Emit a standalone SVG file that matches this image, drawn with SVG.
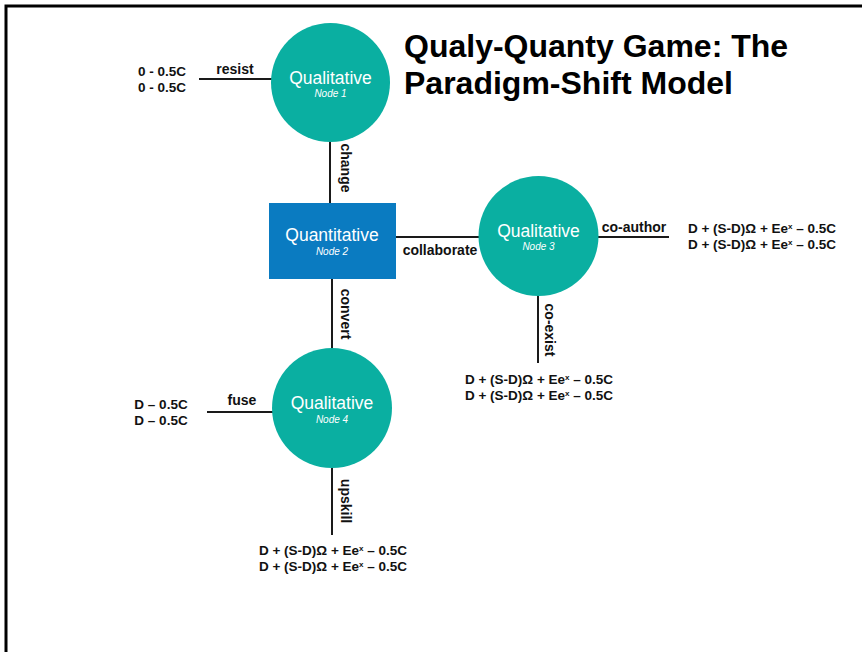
<svg xmlns="http://www.w3.org/2000/svg" width="862" height="652" viewBox="0 0 862 652">
<style>
.bg{fill:#fff}
.frame{fill:none;stroke:#000;stroke-width:3}
.circ{fill:#0aafa1}
.rect{fill:#0a7bc1}
.ln{stroke:#1a1a1a;stroke-width:2;fill:none}
.nt{font-family:"Liberation Sans",Arial,sans-serif;font-size:17.5px;fill:#fff;text-anchor:middle}
.ns{font-family:"Liberation Sans",Arial,sans-serif;font-size:10px;font-style:italic;fill:#fff;text-anchor:middle}
.lb{font-family:"Liberation Sans",Arial,sans-serif;font-size:14px;font-weight:bold;fill:#111;text-anchor:middle}
.eq{font-family:"Liberation Sans",Arial,sans-serif;font-size:13.5px;font-weight:bold;fill:#111;text-anchor:middle}
.sup{font-size:8px}
.title{font-family:"Liberation Sans",Arial,sans-serif;font-size:32px;font-weight:bold;fill:#000}
</style>
<rect class="bg" x="0" y="0" width="862" height="652"/>
<rect class="frame" x="6" y="6" width="870" height="660"/>
<g id="title">
<text class="title" x="404" y="57">Qualy-Quanty Game: The</text>
<text class="title" x="404" y="94">Paradigm-Shift Model</text>
</g>
<g id="connectors">
<line class="ln" x1="199" y1="79" x2="272" y2="79"/>
<line class="ln" x1="330" y1="141" x2="330" y2="203"/>
<line class="ln" x1="332" y1="279" x2="332" y2="349"/>
<line class="ln" x1="396" y1="237" x2="479" y2="237"/>
<line class="ln" x1="598" y1="237" x2="669" y2="237"/>
<line class="ln" x1="538" y1="295" x2="538" y2="363"/>
<line class="ln" x1="207" y1="412" x2="273" y2="412"/>
<line class="ln" x1="332" y1="467" x2="332" y2="535"/>
<text class="lb" x="235" y="74">resist</text>
<text class="lb" transform="translate(346,168) rotate(90)" dominant-baseline="central">change</text>
<text class="lb" transform="translate(346,314) rotate(90)" dominant-baseline="central">convert</text>
<text class="lb" x="440" y="255">collaborate</text>
<text class="lb" x="634" y="232">co-author</text>
<text class="lb" transform="translate(550,330) rotate(90)" dominant-baseline="central">co-exist</text>
<text class="lb" x="242" y="405">fuse</text>
<text class="lb" transform="translate(346,501) rotate(90)" dominant-baseline="central">upskill</text>
</g>
<g id="out1">
<text class="eq" x="162" y="76">0 - 0.5C</text>
<text class="eq" x="162" y="92">0 - 0.5C</text>
</g>
<g id="out3a">
<text class="eq" x="762" y="233">D + (S-D)Ω + Ee<tspan class="sup" dy="-4">x</tspan><tspan dy="4"> – 0.5C</tspan></text>
<text class="eq" x="762" y="249">D + (S-D)Ω + Ee<tspan class="sup" dy="-4">x</tspan><tspan dy="4"> – 0.5C</tspan></text>
</g>
<g id="out3b">
<text class="eq" x="539" y="384">D + (S-D)Ω + Ee<tspan class="sup" dy="-4">x</tspan><tspan dy="4"> – 0.5C</tspan></text>
<text class="eq" x="539" y="400">D + (S-D)Ω + Ee<tspan class="sup" dy="-4">x</tspan><tspan dy="4"> – 0.5C</tspan></text>
</g>
<g id="out4a">
<text class="eq" x="161" y="409">D – 0.5C</text>
<text class="eq" x="161" y="425">D – 0.5C</text>
</g>
<g id="out4b">
<text class="eq" x="333" y="555">D + (S-D)Ω + Ee<tspan class="sup" dy="-4">x</tspan><tspan dy="4"> – 0.5C</tspan></text>
<text class="eq" x="333" y="571">D + (S-D)Ω + Ee<tspan class="sup" dy="-4">x</tspan><tspan dy="4"> – 0.5C</tspan></text>
</g>
<g id="node1">
<circle class="circ" cx="330.5" cy="82.5" r="59.5"/>
<text class="nt" x="330.5" y="84">Qualitative</text>
<text class="ns" x="330.5" y="97">Node 1</text>
</g>
<g id="node2">
<rect class="rect" x="269" y="203" width="127" height="76"/>
<text class="nt" x="332" y="241">Quantitative</text>
<text class="ns" x="332" y="255">Node 2</text>
</g>
<g id="node3">
<circle class="circ" cx="538.5" cy="236" r="60"/>
<text class="nt" x="538.5" y="237">Qualitative</text>
<text class="ns" x="538.5" y="250">Node 3</text>
</g>
<g id="node4">
<circle class="circ" cx="332" cy="408" r="60"/>
<text class="nt" x="332" y="409">Qualitative</text>
<text class="ns" x="332" y="423">Node 4</text>
</g>
</svg>
